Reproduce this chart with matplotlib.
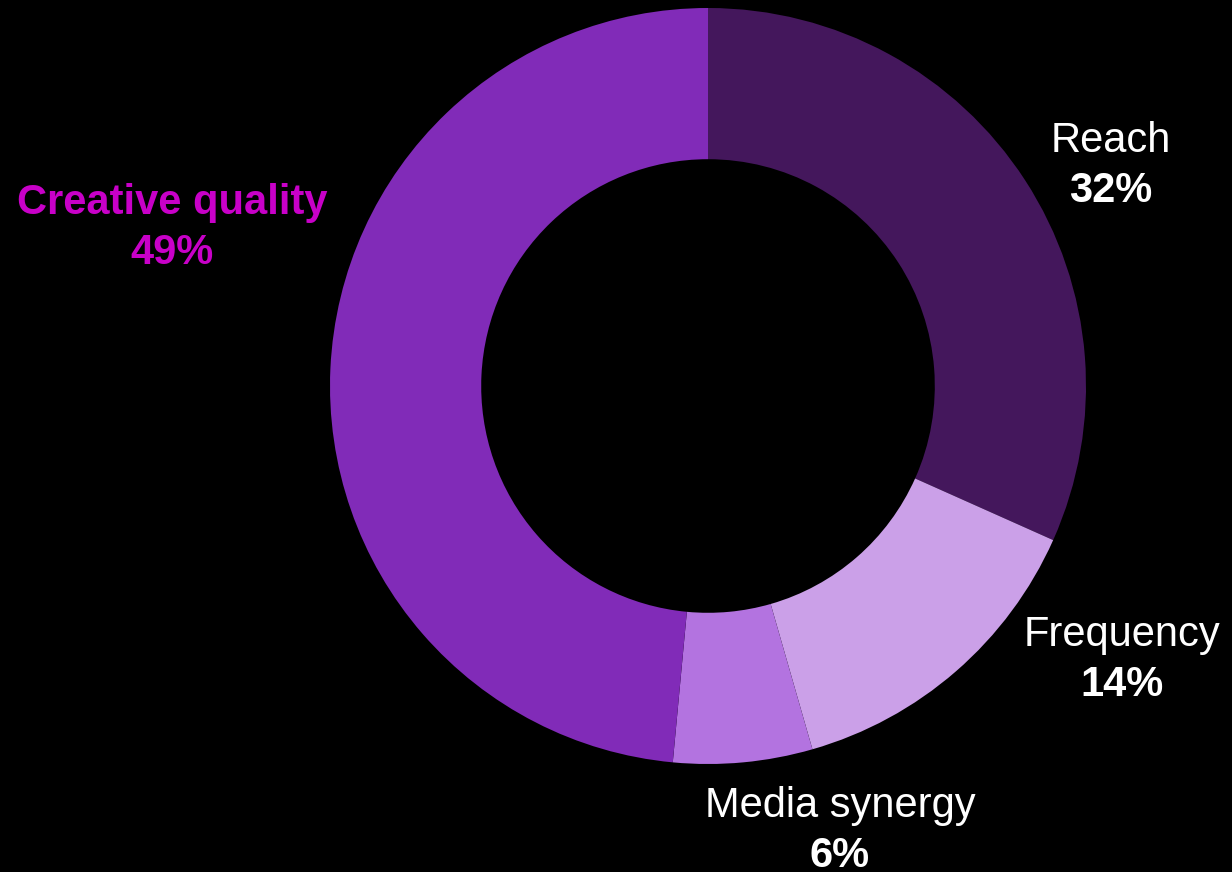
import matplotlib
matplotlib.use('Agg')
import matplotlib.pyplot as plt

plt.rcParams['font.family'] = ['Liberation Sans', 'DejaVu Sans']

categories = ['Reach', 'Frequency', 'Media synergy', 'Creative quality']
values = [32, 14, 6, 49]
colors = ['#44175c', '#cba0e8', '#b373e0', '#812bb8']
label_colors = ['white', 'white', 'white', '#c800c8']
label_bold = [False, False, False, True]

W, H = 1232, 872
fig = plt.figure(figsize=(W / 100, H / 100), dpi=100, facecolor='black')
ax = fig.add_axes([0, 0, 1, 1])
ax.set_facecolor('black')

cx, cy, r = 708, H - 386, 378
ax.pie(values, colors=colors, startangle=90, counterclock=False,
       center=(cx, cy), radius=r, frame=True,
       wedgeprops=dict(width=r * 0.4, linewidth=0))
ax.set_xlim(0, W)
ax.set_ylim(0, H)
ax.set_aspect('equal')
ax.axis('off')

# label anchor points (pixel coords, top-left origin)
label_pos = [(1111, 141), (1122, 635), (840, 806), (172, 203)]
for name, v, (x, y), c, b in zip(categories, values, label_pos, label_colors, label_bold):
    ax.text(x, H - y, name, color=c, fontsize=30, ha='center', va='center',
            fontweight='bold' if b else 'normal')
    ax.text(x, H - y - 50, f'{v}%', color=c, fontsize=30, ha='center', va='center',
            fontweight='bold')

fig.savefig('out.png', dpi=100, facecolor='black')
